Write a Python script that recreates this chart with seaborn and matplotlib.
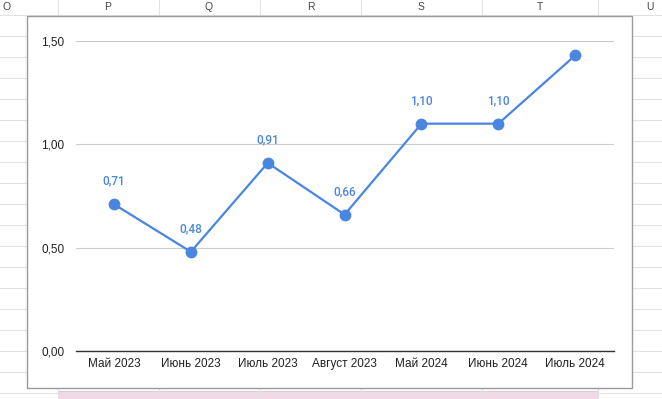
import matplotlib
matplotlib.use("Agg")
import matplotlib.pyplot as plt
import seaborn as sns
import pandas as pd
from matplotlib.patches import Rectangle
from matplotlib.ticker import FuncFormatter

# данные графика
months = ["Май 2023", "Июнь 2023", "Июль 2023", "Август 2023",
          "Май 2024", "Июнь 2024", "Июль 2024"]
values = [0.71, 0.48, 0.91, 0.66, 1.10, 1.10, 1.43]
point_labels = ["0,71", "0,48", "0,91", "0,66", "1,10", "1,10", ""]
y_ticks = [0.0, 0.5, 1.0, 1.5]

# фон таблицы (буквы столбцов)
col_letters = ["O", "P", "Q", "R", "S", "T", "U"]
col_letter_x = [7, 108, 209, 311, 421, 540, 650]
col_edges = [58, 159, 260, 361, 482, 598]

df = pd.DataFrame({"month": months, "value": values})

sns.set_style("white")
plt.rcParams["font.family"] = ["Liberation Sans", "DejaVu Sans"]

W, H = 662, 399
fig = plt.figure(figsize=(W / 100, H / 100), dpi=100)

# фоновая "таблица" в пиксельных координатах
bg = fig.add_axes([0, 0, 1, 1])
bg.set_xlim(0, W)
bg.set_ylim(H, 0)
bg.axis("off")
grid_c = "#e2e2e2"
for y in range(15, H, 21):
    bg.plot([0, W], [y, y], color=grid_c, lw=0.8)
for x in col_edges:
    bg.plot([x, x], [0, 15], color=grid_c, lw=0.8)
    bg.plot([x, x], [388, H], color=grid_c, lw=0.8)
for lt, x in zip(col_letters, col_letter_x):
    bg.text(x, 7.5, lt, ha="center", va="center", fontsize=7.5, color="#444444")
bg.add_patch(Rectangle((58, 391), 540, 10, facecolor="#f3d9e8",
                       edgecolor="#e0c8d6", lw=0.8))
bg.add_patch(Rectangle((27, 16), 605, 372, facecolor="white",
                       edgecolor="#9a9a9a", lw=1.0, zorder=3))

# сам график
ax = fig.add_axes([75.6 / W, 1 - 351 / H, 538 / W, 310 / H])
ax.patch.set_alpha(0)
blue = "#4a86e0"
sns.lineplot(data=df, x="month", y="value", ax=ax, sort=False, color=blue,
             linewidth=1.6, marker="o", markersize=8.5, markeredgewidth=0,
             clip_on=False)
ax.set_xlim(-0.5, len(months) - 0.5)
ax.set_ylim(0, 1.5)
ax.set_yticks(y_ticks)
ax.yaxis.set_major_formatter(FuncFormatter(lambda v, p: f"{v:.2f}".replace(".", ",")))
ax.grid(axis="y", color="#cccccc", lw=0.8)
ax.set_axisbelow(True)
for s in ["top", "right", "left"]:
    ax.spines[s].set_visible(False)
ax.spines["bottom"].set_color("#333333")
ax.spines["bottom"].set_linewidth(1.0)
ax.tick_params(axis="both", length=0, labelsize=8.5, colors="#222222")
ax.tick_params(axis="y", pad=8)
ax.tick_params(axis="x", pad=5)
ax.set_xlabel("")
ax.set_ylabel("")

for i, (v, lab) in enumerate(zip(values, point_labels)):
    if lab:
        ax.annotate(lab, (i, v), xytext=(0, 12), textcoords="offset points",
                    ha="center", va="bottom", fontsize=8.5, color=blue,
                    fontweight="medium", family=["Roboto", "DejaVu Sans"])

fig.savefig("out.png", dpi=100)
